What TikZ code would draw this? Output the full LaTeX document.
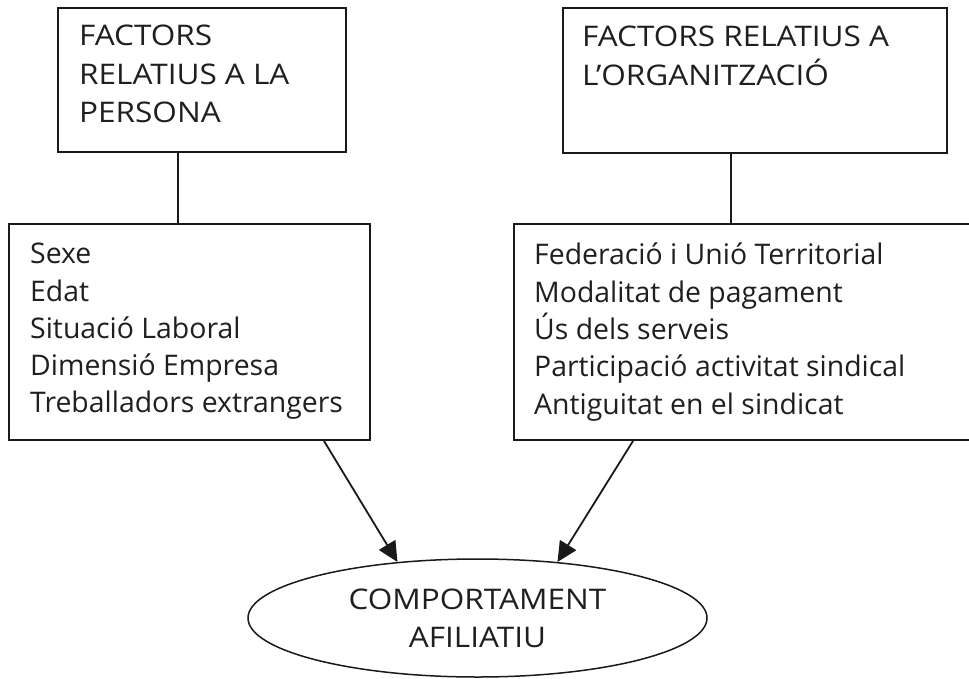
\documentclass[tikz,border=0pt]{standalone}
\usepackage{fontspec}
\setmainfont{Open Sans}
\newfontfamily\capsfont[FakeStretch=1.11]{Open Sans}
\usetikzlibrary{arrows.meta,shapes.geometric}
\begin{document}
\begin{tikzpicture}[x=1pt,y=-1pt,
  box/.style={draw=black!90,line width=2pt,inner sep=0pt,anchor=north west},
  txt/.style={inner sep=0pt,anchor=north west,align=left,text=black!88,font=\fontsize{28.4}{37.3}\selectfont},
  captxt/.style={txt,font=\capsfont\fontsize{28.4}{38.5}\selectfont},
  arr/.style={draw=black!90,line width=1.8pt,-{Triangle[length=20pt,width=19pt]}},
  conn/.style={draw=black!90,line width=2pt}]
\clip (0,0) rectangle (969,678);
% boxes
\node[box,minimum width=288pt,minimum height=144pt] (tl) at (57,7) {};
\node[box,minimum width=384pt,minimum height=145pt] (tr) at (562,7) {};
\node[box,minimum width=361pt,minimum height=216pt] (bl) at (8,223) {};
\node[box,minimum width=462pt,minimum height=216pt] (br) at (513,223) {};
% texts
\node[captxt] (tlt) at (79,25) {FACTORS\\RELATIUS A LA\\PERSONA};
\node[captxt] (trt) at (582,26) {FACTORS RELATIUS A\\L’ORGANITZACIÓ};
\node[txt] (blt) at (30,243) {Sexe\\Edat\\Situació Laboral\\Dimensió Empresa\\Treballadors extrangers};
\node[txt] (brt) at (534,243) {Federació i Unió Territorial\\Modalitat de pagament\\Ús dels serveis\\Participació activitat sindical\\Antiguitat en el sindicat};
% ellipse
\node[draw=black!90,ellipse,line width=1.5pt,minimum width=459pt,minimum height=118pt,inner sep=0pt,align=center,text=black!88,font=\capsfont\fontsize{28.4}{38}\selectfont] (el) at (477.5,618) {COMPORTAMENT\\AFILIATIU};
% connectors
\draw[conn] ([xshift=-24pt]tl.south) -- ([xshift=-24pt]tl.south |- bl.north);
\draw[conn] ([xshift=-24pt]tr.south) -- ([xshift=-24pt]tr.south |- br.north);
\draw[arr] ([xshift=-47pt]bl.south east) -- (el.145);
\draw[arr] ([xshift=120pt]br.south west) -- (el.35);
\end{tikzpicture}
\end{document}
